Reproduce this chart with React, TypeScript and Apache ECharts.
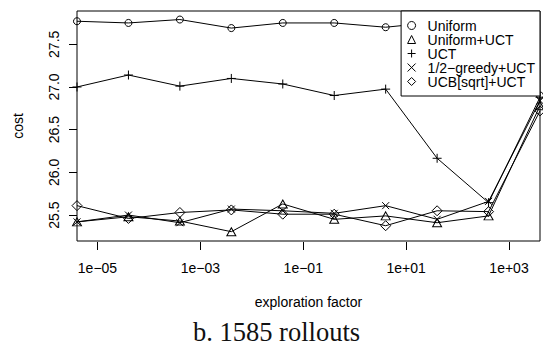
import React, { useEffect, useRef } from 'react';
import * as echarts from 'echarts';

// exploration factors (one decade apart) and mean cost per method
const factors = [4e-6, 4e-5, 4e-4, 4e-3, 4e-2, 4e-1, 4, 40, 400, 4000];
const uniform = [27.77, 27.75, 27.79, 27.69, 27.75, 27.75, 27.7, 27.76, 27.72, 26.9];
const uniformUct = [25.42, 25.48, 25.43, 25.305, 25.63, 25.45, 25.49, 25.41, 25.49, 26.78];
const uct = [27.0, 27.14, 27.01, 27.1, 27.035, 26.9, 26.975, 26.165, 25.645, 26.88];
const halfGreedyUct = [25.42, 25.5, 25.41, 25.57, 25.55, 25.52, 25.61, 25.45, 25.66, 26.84];
const ucbSqrtUct = [25.61, 25.46, 25.53, 25.56, 25.51, 25.51, 25.375, 25.55, 25.54, 26.72];

const seriesNames = ['Uniform', 'Uniform+UCT', 'UCT', '1/2\u2212greedy+UCT', 'UCB[sqrt]+UCT'];
const xTickExponents = [-5, -3, -1, 1, 3];
const xTickLabels = ['1e\u221205', '1e\u221203', '1e\u221201', '1e+01', '1e+03'];
const yTicks = [25.5, 26, 26.5, 27, 27.5];
const yRange = [25.196, 27.89];

const PLUS = 'path://M0,5L10,5M5,0L5,10';
const CROSS = 'path://M0,0L10,10M10,0L0,10';

const SANS = 'Liberation Sans, Arial, sans-serif';
const SERIF = 'Liberation Serif, Times New Roman, serif';

const marks: { symbol: string; size: number | number[] }[] = [
  { symbol: 'circle', size: 7 },
  { symbol: 'triangle', size: [9, 8] },
  { symbol: PLUS, size: 9 },
  { symbol: CROSS, size: 7 },
  { symbol: 'diamond', size: 10 },
];

const values = [uniform, uniformUct, uct, halfGreedyUct, ucbSqrtUct];

function buildOption() {
  const series = values.map((vals, i) => ({
    name: seriesNames[i],
    type: 'line',
    data: factors.map((f, j) => [Math.log10(f), vals[j]]),
    symbol: marks[i].symbol,
    symbolSize: marks[i].size,
    showAllSymbol: true,
    clip: true,
    lineStyle: { color: '#000', width: 1 },
    itemStyle: { color: 'none', borderColor: '#000', borderWidth: 1 },
    emphasis: { disabled: true },
  }));

  return {
    animation: false,
    backgroundColor: '#fff',
    grid: {
      left: 77,
      top: 11,
      width: 463,
      height: 230,
      show: true,
      borderColor: '#000',
      borderWidth: 1,
      backgroundColor: 'transparent',
    },
    xAxis: {
      type: 'value',
      min: Math.log10(factors[0]),
      max: Math.log10(factors[factors.length - 1]),
      offset: 1,
      axisLine: { show: false, onZero: false },
      splitLine: { show: false },
      axisTick: {
        show: true,
        customValues: xTickExponents,
        length: 8,
        lineStyle: { color: '#000', width: 1 },
      },
      axisLabel: {
        customValues: xTickExponents,
        formatter: (v: number) => xTickLabels[xTickExponents.indexOf(Math.round(v))] ?? '',
        margin: 19,
        fontSize: 14,
        color: '#000',
        fontFamily: SANS,
      },
    },
    yAxis: {
      type: 'value',
      min: yRange[0],
      max: yRange[1],
      axisLine: { show: false, onZero: false },
      splitLine: { show: false },
      axisTick: {
        show: true,
        customValues: yTicks,
        length: 8,
        lineStyle: { color: '#000', width: 1 },
      },
      axisLabel: {
        customValues: yTicks,
        formatter: (v: number) => v.toFixed(1),
        rotate: 90,
        margin: 16,
        fontSize: 14,
        color: '#000',
        fontFamily: SANS,
      },
    },
    legend: {
      orient: 'vertical',
      right: 3,
      top: 11,
      padding: [7.5, 5, 7.5, 4],
      itemGap: 0,
      itemWidth: 8,
      itemHeight: 8,
      backgroundColor: '#fff',
      borderColor: '#000',
      borderWidth: 1,
      borderRadius: 0,
      selectedMode: false,
      itemStyle: { color: 'none', borderColor: '#000', borderWidth: 1 },
      textStyle: {
        fontSize: 14,
        lineHeight: 14,
        color: '#000',
        fontFamily: SANS,
        padding: [0, 0, 0, 7],
      },
      data: seriesNames.map((name, i) => ({ name, icon: marks[i].symbol })),
    },
    graphic: [
      {
        type: 'text',
        x: 308.5,
        y: 302,
        style: {
          text: 'exploration factor',
          fontSize: 14,
          fontFamily: SANS,
          fill: '#000',
          textAlign: 'center',
          textVerticalAlign: 'middle',
        },
      },
      {
        type: 'text',
        x: 18,
        y: 126,
        rotation: Math.PI / 2,
        style: {
          text: 'cost',
          fontSize: 14,
          fontFamily: SANS,
          fill: '#000',
          textAlign: 'center',
          textVerticalAlign: 'middle',
        },
      },
      {
        type: 'text',
        x: 276.5,
        y: 331.5,
        style: {
          text: 'b. 1585 rollouts',
          fontSize: 26.5,
          lineHeight: 24,
          fontFamily: SERIF,
          fill: '#111',
          textAlign: 'center',
          textVerticalAlign: 'middle',
        },
      },
    ],
    series,
  };
}

export default function App() {
  const ref = useRef<HTMLDivElement>(null);
  useEffect(() => {
    if (!ref.current) return;
    const chart = echarts.init(ref.current, null, { renderer: 'svg' });
    chart.setOption(buildOption() as any);
    return () => chart.dispose();
  }, []);
  return (
    <div
      ref={ref}
      style={{ position: 'fixed', left: 0, top: 0, width: 543, height: 345, background: '#fff' }}
    />
  );
}
